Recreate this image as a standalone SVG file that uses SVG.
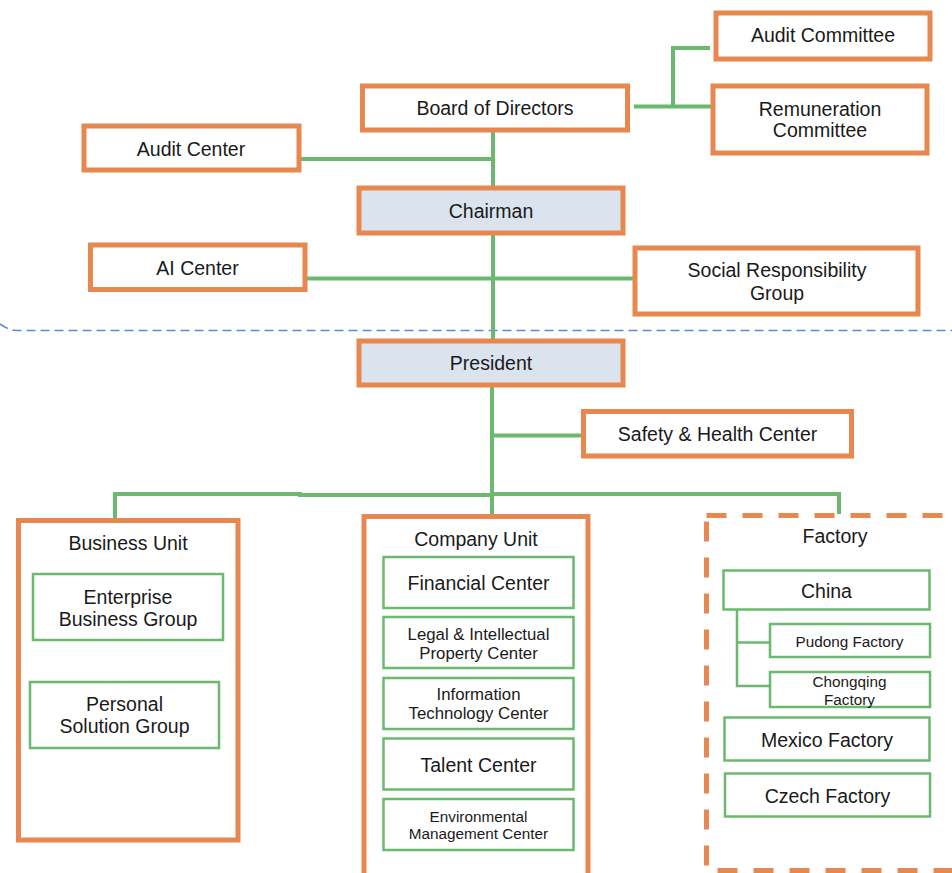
<svg xmlns="http://www.w3.org/2000/svg" width="952" height="873" viewBox="0 0 952 873">
<style>
text{font-family:"Liberation Sans",Arial,sans-serif;fill:#1a1a1a;text-anchor:middle;dominant-baseline:central;font-size:19.5px}
.o{fill:#fff;stroke:#e8874f;stroke-width:5}
.ob{fill:#dbe3ef;stroke:#e8874f;stroke-width:5}
.g{fill:#fff;stroke:#6ab96e;stroke-width:2.5}
.c{fill:none;stroke:#6ab96e;stroke-width:4}
.ct{fill:none;stroke:#6ab96e;stroke-width:2.5}
.s{font-size:16.8px}
.xs{font-size:15.3px}
</style>
<rect width="952" height="873" fill="#fff"/>
<path d="M0,324 Q8,330 16,330.5 H952" fill="none" stroke="#5b8ad0" stroke-width="1.6" stroke-dasharray="9 5"/>
<g id="connectors">
<path class="c" d="M493,131 V188"/>
<path class="c" d="M301,159 H493"/>
<path class="c" d="M634,106.5 H711"/>
<path class="c" d="M673,106.5 V48 H710"/>
<path class="c" d="M493,235 V341"/>
<path class="c" d="M307,278.5 H635"/>
<path class="c" d="M492,387 V515"/>
<path class="c" d="M492,435.5 H583"/>
<path class="c" d="M115,520 V494 H300 L300,495 H492"/>
<path class="c" d="M492,494 H839 V514"/>
<path class="ct" d="M737,610 V686 H770 M737,642.5 H770"/>
</g>
<g id="board"><rect class="o" x="362.5" y="86" width="265" height="44"/><text x="495" y="108">Board of Directors</text></g>
<g id="audit-committee"><rect class="o" x="716" y="13" width="214" height="46"/><text x="823" y="35">Audit Committee</text></g>
<g id="remuneration"><rect class="o" x="713" y="86" width="214" height="67"/><text x="820" y="108.5">Remuneration</text><text x="820" y="130">Committee</text></g>
<g id="audit-center"><rect class="o" x="84" y="126" width="215" height="44"/><text x="191" y="148.5">Audit Center</text></g>
<g id="chairman"><rect class="ob" x="359" y="188" width="264" height="45"/><text x="491" y="210.5">Chairman</text></g>
<g id="ai-center"><rect class="o" x="90.5" y="245" width="214.5" height="44.5"/><text x="197.5" y="267.5">AI Center</text></g>
<g id="social"><rect class="o" x="635" y="248" width="283" height="66"/><text x="777" y="270">Social Responsibility</text><text x="777" y="293">Group</text></g>
<g id="president"><rect class="ob" x="359" y="341" width="264" height="44"/><text x="491" y="363">President</text></g>
<g id="safety"><rect class="o" x="583.5" y="411.5" width="268" height="44.5"/><text x="717.5" y="434">Safety &amp; Health Center</text></g>
<g id="business-unit">
<rect class="o" x="18.5" y="520.5" width="219.5" height="319.5"/>
<text x="128" y="542.5">Business Unit</text>
<g id="enterprise"><rect class="g" x="33" y="574" width="190" height="66"/><text x="128" y="597">Enterprise</text><text x="128" y="618.5">Business Group</text></g>
<g id="personal"><rect class="g" x="30" y="682" width="189" height="66"/><text x="124.5" y="703.5">Personal</text><text x="124.5" y="726">Solution Group</text></g>
</g>
<g id="company-unit">
<rect class="o" x="364" y="516.5" width="224" height="362"/>
<text x="476" y="538.5">Company Unit</text>
<g id="financial"><rect class="g" x="383.5" y="557" width="190" height="51"/><text x="478.5" y="583">Financial Center</text></g>
<g id="legal"><rect class="g" x="383.5" y="617" width="190" height="51"/><text class="s" x="478.5" y="634">Legal &amp; Intellectual</text><text class="s" x="478.5" y="653.5">Property Center</text></g>
<g id="it"><rect class="g" x="383.5" y="678" width="190" height="51"/><text class="s" x="478.5" y="694.5">Information</text><text class="s" x="478.5" y="713.5">Technology Center</text></g>
<g id="talent"><rect class="g" x="383.5" y="738.5" width="190" height="51"/><text x="478.5" y="765">Talent Center</text></g>
<g id="environmental"><rect class="g" x="383.5" y="799" width="190" height="51"/><text class="xs" x="478.5" y="816">Environmental</text><text class="xs" x="478.5" y="833.5">Management Center</text></g>
</g>
<g id="factory">
<rect x="706.5" y="515.5" width="270" height="355" fill="none" stroke="#e8874f" stroke-width="5" stroke-dasharray="20 16"/>
<text x="835" y="536">Factory</text>
<g id="china"><rect class="g" x="723.5" y="570.5" width="206" height="39"/><text x="826.5" y="591">China</text></g>
<g id="pudong"><rect class="g" x="770" y="624" width="160" height="33"/><text class="xs" x="849.5" y="641">Pudong Factory</text></g>
<g id="chongqing"><rect class="g" x="770" y="672" width="160" height="35"/><text class="xs" x="849.5" y="681">Chongqing</text><text class="xs" x="849.5" y="699">Factory</text></g>
<g id="mexico"><rect class="g" x="724.5" y="717.5" width="205" height="43"/><text x="827" y="740">Mexico Factory</text></g>
<g id="czech"><rect class="g" x="725" y="773.5" width="205" height="43"/><text x="827.5" y="796">Czech Factory</text></g>
</g>
</svg>
